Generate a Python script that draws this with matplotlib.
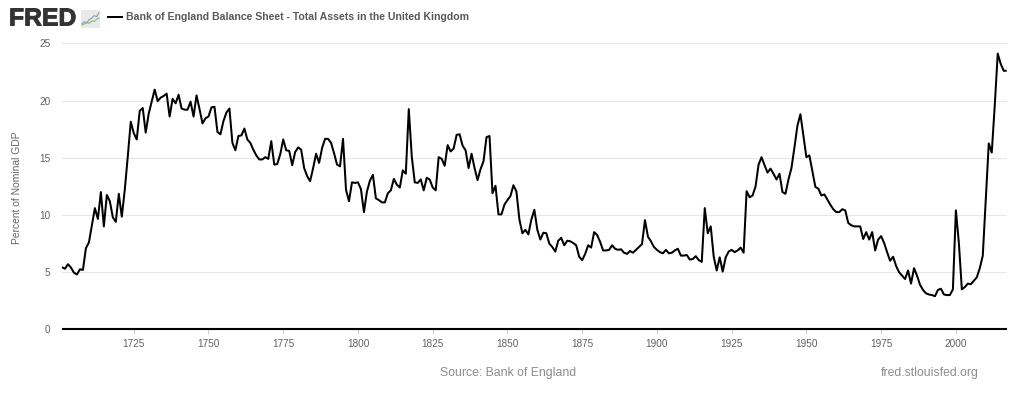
import numpy as np
import matplotlib
matplotlib.use("Agg")
import matplotlib.pyplot as plt
import matplotlib.patheffects as pe
from matplotlib.patches import Rectangle

first_year = 1701
values = [
 5.44,5.3,5.7,5.4,4.95,4.8,5.25,5.2,7.1,7.6,
 9.1,10.6,9.65,12.0,9.0,11.75,11.2,9.8,9.4,11.85,
 9.85,12.2,15.1,18.15,17.15,16.6,19.1,19.35,17.2,18.85,
 19.9,20.95,19.95,20.25,20.4,20.6,18.6,20.15,19.75,20.5,
 19.3,19.2,19.2,19.9,18.6,20.45,19.25,18.0,18.45,18.6,
 19.4,19.45,17.25,17.05,18.2,18.95,19.3,16.3,15.65,16.9,
 16.95,17.55,16.6,16.3,15.7,15.2,14.85,14.85,15.05,14.9,
 16.45,14.4,14.45,15.3,16.6,15.65,15.6,14.35,15.5,15.9,
 15.7,14.1,13.4,12.95,14.1,15.35,14.55,15.85,16.65,16.65,
 16.3,15.4,14.4,14.25,16.65,12.2,11.2,12.85,12.8,12.85,
 12.25,10.25,12.05,13.0,13.5,11.45,11.3,11.1,11.1,11.9,
 12.15,13.15,12.65,12.4,13.9,13.6,19.25,15.1,12.85,12.8,
 13.1,12.15,13.25,13.1,12.4,12.15,15.05,14.9,14.3,16.1,
 15.55,15.8,17.0,17.05,16.05,15.65,14.1,15.35,14.1,13.05,
 14.0,14.7,16.8,16.9,11.9,12.55,10.05,10.05,10.9,11.3,
 11.65,12.6,12.05,9.6,8.4,8.7,8.3,9.6,10.45,8.7,
 7.85,8.45,8.4,7.5,7.2,6.8,7.75,8.0,7.35,7.75,
 7.7,7.55,7.35,6.35,6.05,6.6,7.35,7.15,8.5,8.25,
 7.65,6.9,6.9,6.95,7.35,7.05,6.95,7.0,6.7,6.6,
 6.85,6.7,6.95,7.2,7.45,9.55,8.1,7.7,7.2,6.95,
 6.75,6.65,6.95,6.65,6.7,6.9,7.05,6.45,6.45,6.5,
 6.1,6.15,6.4,6.05,5.9,10.6,8.4,9.0,6.35,5.15,
 6.3,5.05,6.3,6.8,6.95,6.75,6.9,7.15,6.7,12.08,
 11.55,11.7,12.5,14.4,15.05,14.35,13.7,14.05,13.6,13.1,
 13.6,12.0,11.85,13.1,14.1,15.9,17.8,18.8,16.9,15.05,
 15.2,13.85,12.45,12.3,11.7,11.8,11.35,10.9,10.5,10.25,
 10.25,10.5,10.4,9.3,9.1,9.0,9.0,9.0,7.9,8.5,
 7.85,8.5,6.9,7.85,8.15,7.55,6.75,6.0,6.35,5.55,
 5.0,4.7,4.4,5.15,4.0,5.35,4.7,3.9,3.45,3.15,
 3.05,3.0,2.9,3.45,3.55,3.05,3.0,3.0,3.5,10.4,
 7.55,3.5,3.7,4.0,3.95,4.25,4.55,5.35,6.45,11.35,
 16.25,15.45,19.55,24.1,23.2,22.6,22.6,
]
years = np.arange(first_year, first_year + len(values))
x_ticks = [1725,1750,1775,1800,1825,1850,1875,1900,1925,1950,1975,2000]
y_ticks = [0,5,10,15,20,25]
legend_label = "Bank of England Balance Sheet - Total Assets in the United Kingdom"
y_label = "Percent of Nominal GDP"
source_text = "Source: Bank of England"
site_text = "fred.stlouisfed.org"
icon_blue = [1,1.6,1.4,2.2,2.6,3.3,3.0,4.1]
icon_green = [0.7,1.0,1.3,1.2,1.8,1.7,2.3,2.6]

W, H = 1024, 395
plt.rcParams['font.family'] = ['Liberation Sans', 'DejaVu Sans']
fig = plt.figure(figsize=(W/100, H/100), dpi=100)
L, R, B, T = 62, 1006.7, 329.4, 43.3
ax = fig.add_axes([L/W, 1-B/H, (R-L)/W, (B-T)/H])
ax.plot(years, values, color='black', lw=1.45, solid_joinstyle='round', solid_capstyle='butt', clip_on=False, zorder=3)
ax.set_xlim(first_year, first_year + len(values) - 1)
ax.set_ylim(0, 25)
ax.set_xticks(x_ticks)
ax.set_yticks(y_ticks)
ax.grid(axis='y', color='#e6e6e6', lw=0.8)
ax.set_axisbelow(True)
for s in ['top','left','right']:
    ax.spines[s].set_visible(False)
ax.spines['bottom'].set_color('black')
ax.spines['bottom'].set_linewidth(1.5)
ax.spines['bottom'].set_capstyle('butt')
ax.tick_params(axis='x', length=3.5, width=0.7, color='#c0d0e0', labelsize=7.2, labelcolor='#606060', pad=3.5)
ax.tick_params(axis='y', length=0, labelsize=7.2, labelcolor='#606060', pad=8.5)
ax.set_facecolor('white')

fig.text(17/W, 1-187.5/H, y_label, rotation=90, ha='center', va='center', fontsize=7.4, color='#666666')

# header: logo and legend
fig.text(9/W, 1-18.5/H, "FRED", ha='left', va='center', fontsize=17.8, fontweight='bold', color='#333333',
         path_effects=[pe.withStroke(linewidth=0.7, foreground='#333333')])
iax = fig.add_axes([81/W, 1-27.5/H, 19/W, 18/H])
iax.add_patch(Rectangle((0,0),1,1,transform=iax.transAxes,color='#e9e9e9',lw=0))
iax.plot(np.linspace(0.4,7.6,8), icon_blue, color='#7f9fbf', lw=0.8)
iax.plot(np.linspace(0.4,7.6,8), icon_green, color='#8fb86f', lw=0.8)
iax.set_xlim(0,8); iax.set_ylim(0,5); iax.axis('off')
fig.add_artist(plt.Line2D([108/W,122/W],[1-17.3/H]*2,color='black',lw=1.45))
fig.text(126.5/W, 1-17.3/H, legend_label, ha='left', va='center', fontsize=7.56, fontweight='bold', color='#595959')

fig.text(440/W, 1-373.2/H, source_text, ha='left', va='center', fontsize=8.87, color='#8c8c8c')
fig.text(979/W, 1-373.2/H, site_text, ha='right', va='center', fontsize=8.8, color='#8c8c8c')
fig.savefig('out.png', dpi=100, facecolor='white')
